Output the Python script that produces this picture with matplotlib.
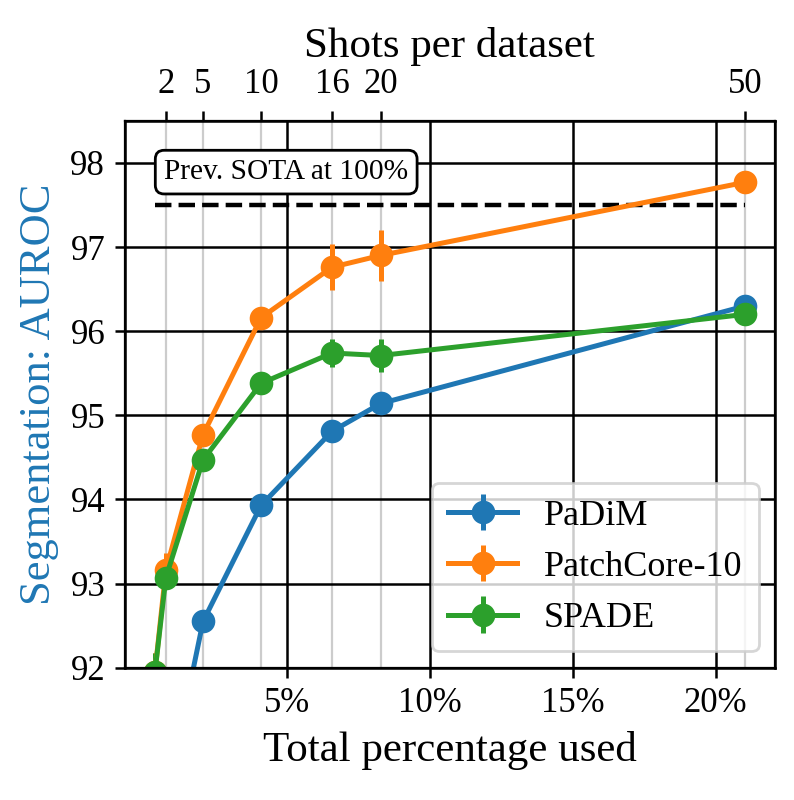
import matplotlib
matplotlib.use("Agg")
import matplotlib.pyplot as plt

plt.rcParams['font.family'] = ['Liberation Serif', 'DejaVu Serif']

# data
shots = [1, 2, 5, 10, 16, 20, 50]
pct = [0.40, 0.78, 2.08, 4.11, 6.59, 8.29, 21.04]
shot_labels = ['2', '5', '10', '16', '20', '50']

padim = [89.40, 90.41, 92.55, 93.93, 94.81, 95.14, 96.30]
padim_err = [0.05, 0.05, 0.05, 0.05, 0.05, 0.05, 0.05]
patchcore = [91.95, 93.16, 94.77, 96.16, 96.76, 96.90, 97.77]
patchcore_err = [0.22, 0.20, 0.05, 0.10, 0.27, 0.30, 0.05]
spade = [91.95, 93.07, 94.47, 95.38, 95.74, 95.71, 96.20]
spade_err = [0.22, 0.10, 0.05, 0.05, 0.17, 0.20, 0.05]
sota = 97.5

pct_ticks = [5, 10, 15, 20]
pct_ticklabels = ['5%', '10%', '15%', '20%']
y_ticks = [92, 93, 94, 95, 96, 97, 98]

fig = plt.figure(figsize=(3.97, 4.0), dpi=200)
ax = fig.add_axes([0.157, 0.1654, 0.819, 0.6836])

xlim = (-0.66, 22.07)
ax.set_xlim(*xlim)
ax.set_ylim(92, 98.5)

for p in pct[1:]:
    ax.axvline(p, color='#cccccc', lw=0.8, zorder=0.5)

ax.grid(True, color='black', lw=0.9, zorder=1)
ax.set_axisbelow(True)

series = [("PaDiM", padim, padim_err, '#1f77b4'),
          ("PatchCore-10", patchcore, patchcore_err, '#ff7f0e'),
          ("SPADE", spade, spade_err, '#2ca02c')]
for name, vals, err, col in series:
    ax.errorbar(pct, vals, yerr=err, fmt='o-', color=col, lw=1.8,
                markersize=7.5, elinewidth=1.8, capsize=0, label=name, zorder=3)

ax.plot([pct[0], pct[-1]], [sota, sota], '--', color='black', lw=1.6, zorder=2.5)
ax.text(pct[0] + 0.32, 97.89, 'Prev. SOTA at 100%', fontsize=10.6, ha='left', va='center',
        bbox=dict(boxstyle='round,pad=0.3', fc='white', ec='black', lw=1), zorder=4)

ax.set_xticks(pct_ticks)
ax.set_xticklabels(pct_ticklabels, fontsize=12.5)
ax.set_yticks(y_ticks)
ax.set_yticklabels([str(v) for v in y_ticks], fontsize=12.5)
ax.set_xlabel('Total percentage used', fontsize=15.5)
ax.set_ylabel('Segmentation: AUROC', fontsize=16, color='#1f77b4')
for s in ax.spines.values():
    s.set_linewidth(0.9)
ax.tick_params(width=0.9)

ax2 = ax.twiny()
ax2.set_xlim(*xlim)
ax2.set_xticks(pct[1:])
ax2.set_xticklabels(shot_labels, fontsize=12.5)
ax2.set_xlabel('Shots per dataset', fontsize=15.5)
ax2.tick_params(width=0.9)

leg = ax.legend(loc='lower right', fontsize=13, framealpha=0.8, edgecolor='#cccccc',
                borderaxespad=0.45, borderpad=0.45, handlelength=1.9, handletextpad=0.75)
leg.set_zorder(5)

fig.savefig('out.png', dpi=200)
